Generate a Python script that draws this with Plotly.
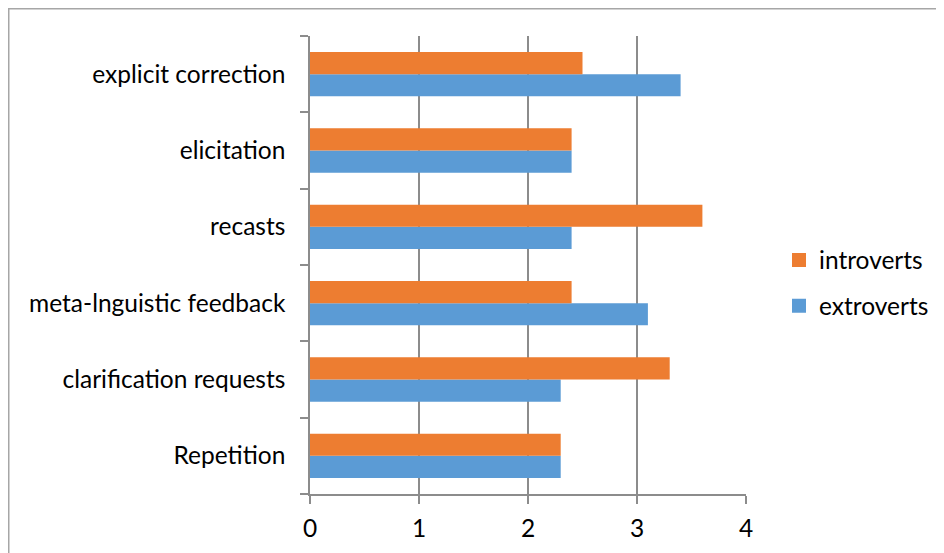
import plotly.graph_objects as go

categories = ["Repetition", "clarification requests", "meta-lnguistic feedback",
              "recasts", "elicitation", "explicit correction"]
extroverts = [2.3, 2.3, 3.1, 2.4, 2.4, 3.4]
introverts = [2.3, 3.3, 2.4, 3.6, 2.4, 2.5]
x_ticks = [0, 1, 2, 3, 4]

BLUE, ORANGE = "#5B9BD5", "#ED7D31"
OFF = 8  # page body margin
W, H = 1000, 553
L, T = 310 - OFF, 36 - OFF
R = W - (746 - OFF)
B = H - (494 - OFF)
pw, ph = W - L - R, H - T - B

fig = go.Figure()
fig.add_trace(go.Bar(y=categories, x=extroverts, orientation="h", name="extroverts",
                     showlegend=False, marker=dict(color=BLUE, line=dict(width=0))))
fig.add_trace(go.Bar(y=categories, x=introverts, orientation="h", name="introverts",
                     showlegend=False, marker=dict(color=ORANGE, line=dict(width=0))))
# legend entries (square swatches)
fig.add_trace(go.Scatter(x=[None], y=[None], mode="markers", name="introverts",
                         legendgroup="i", legendrank=1,
                         marker=dict(symbol="square", size=14, color=ORANGE)))
fig.add_trace(go.Scatter(x=[None], y=[None], mode="markers", name="extroverts",
                         legendgroup="e", legendrank=2,
                         marker=dict(symbol="square", size=14, color=BLUE)))

font = dict(family="Lato, Noto Sans, sans-serif", size=24.5, color="#000000")
grid = "#8c8c8c"

fig.update_layout(
    width=W, height=H, barmode="group", bargap=0.42, bargroupgap=0,
    margin=dict(l=L, r=R, t=T, b=B, pad=0),
    paper_bgcolor="white", plot_bgcolor="white", font=font,
    legend=dict(x=(779 - 310) / pw, xanchor="left", y=(494 - 283) / ph, yanchor="middle",
                traceorder="grouped", font=font, itemsizing="trace",
                tracegroupgap=11, itemwidth=30, bgcolor="rgba(0,0,0,0)"),
    xaxis=dict(range=[0, 4], tickvals=x_ticks, showgrid=True, gridcolor=grid, gridwidth=1.5,
               zeroline=False, showline=True, linecolor=grid, linewidth=1.5,
               ticks="outside", ticklen=8, tickcolor=grid, tickwidth=1.5,
               ticklabelstandoff=4, fixedrange=True),
    yaxis=dict(categoryorder="array", categoryarray=categories, tickson="boundaries",
               showgrid=False, zeroline=False, showline=True, linecolor=grid, linewidth=1.5,
               ticks="outside", ticklen=8, tickcolor=grid, tickwidth=1.5,
               ticklabelstandoff=18, fixedrange=True),
    shapes=[dict(type="rect", xref="paper", yref="paper",
                 x0=(0.75 - L) / pw, x1=(W + 20 - L) / pw,
                 y0=-(B + 20) / ph, y1=1 + (T - 0.75) / ph,
                 line=dict(color="#a6a6a6", width=1.5), fillcolor="rgba(0,0,0,0)", layer="below")],
)

fig.write_html("out.html")
